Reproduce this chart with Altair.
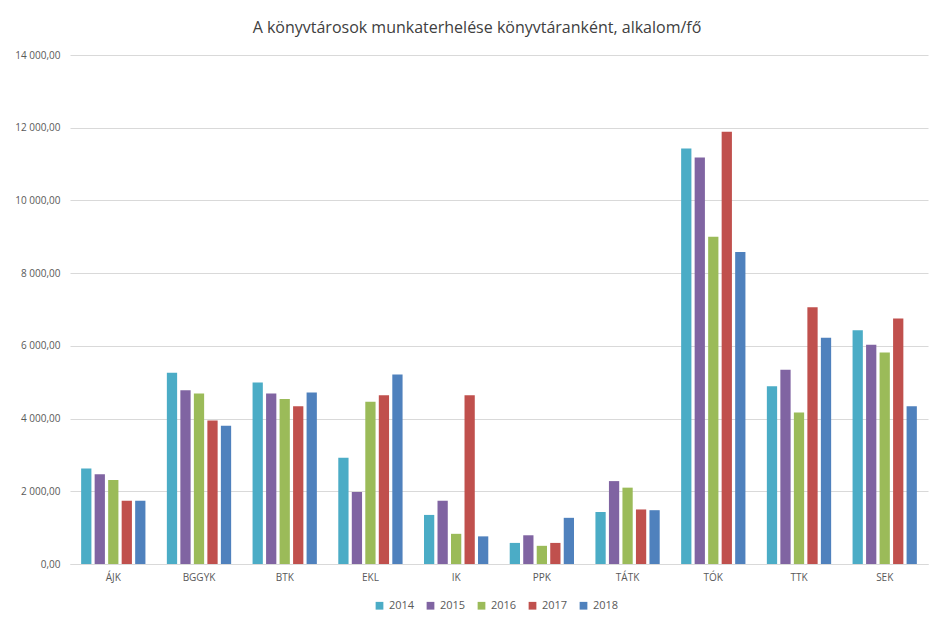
import altair as alt
import pandas as pd

categories = ["ÁJK", "BGGYK", "BTK", "EKL", "IK", "PPK", "TÁTK", "TÓK", "TTK", "SEK"]
years = ["2014", "2015", "2016", "2017", "2018"]
v2014 = [2630, 5260, 4990, 2920, 1350, 580, 1430, 11430, 4890, 6430]
v2015 = [2470, 4780, 4690, 1980, 1740, 790, 2280, 11180, 5340, 6030]
v2016 = [2310, 4690, 4540, 4460, 830, 500, 2100, 9000, 4170, 5820]
v2017 = [1740, 3950, 4340, 4640, 4640, 580, 1500, 11890, 7060, 6750]
v2018 = [1740, 3800, 4720, 5210, 760, 1270, 1480, 8580, 6220, 4340]
colors = ["#4BACC6", "#8064A2", "#9BBB59", "#C0504D", "#4F81BD"]

series = [v2014, v2015, v2016, v2017, v2018]
rows = []
for y, vals in zip(years, series):
    for c, v in zip(categories, vals):
        rows.append({"kar": c, "ev": y, "ertek": v})
df = pd.DataFrame(rows)

font = "Open Sans"
grey = "#595959"

chart = alt.Chart(df).mark_bar().encode(
    x=alt.X("kar:N", sort=categories, title=None,
            scale=alt.Scale(paddingInner=0.25, paddingOuter=0.13),
            axis=alt.Axis(labelAngle=0, ticks=False, labelPadding=8,
                          domainColor="#D9D9D9", labelFontSize=10,
                          labelColor=grey, labelFont=font)),
    xOffset=alt.XOffset("ev:N", sort=years, scale=alt.Scale(paddingInner=0.24)),
    y=alt.Y("ertek:Q", title=None,
            scale=alt.Scale(domain=[0, 14000]),
            axis=alt.Axis(values=[0, 2000, 4000, 6000, 8000, 10000, 12000, 14000],
                          labelExpr="replace(replace(format(datum.value, ',.2f'), ',', ' '), '.', ',')",
                          ticks=False, domain=False, labelPadding=10,
                          gridColor="#D9D9D9", labelFontSize=10,
                          labelColor=grey, labelFont=font)),
    color=alt.Color("ev:N", sort=years, title=None,
                    scale=alt.Scale(domain=years, range=colors),
                    legend=alt.Legend(orient="none", direction="horizontal",
                                      legendX=304, legendY=545,
                                      symbolType="square", symbolSize=60,
                                      labelFontSize=11, labelColor=grey,
                                      labelFont=font, columnPadding=10,
                                      symbolStrokeWidth=0)),
).properties(
    width=858, height=509,
    autosize=alt.AutoSizeParams(type="none"),
    padding={"left": 62, "top": 47, "right": 4, "bottom": 49},
    title=alt.TitleParams("A könyvtárosok munkaterhelése könyvtáranként, alkalom/fő",
                          fontSize=16, font=font, fontWeight="normal",
                          color="#404040", offset=14, dx=-22),
).configure_view(stroke=None)

chart.save("out.html", embed_options={"renderer": "svg", "actions": False})
